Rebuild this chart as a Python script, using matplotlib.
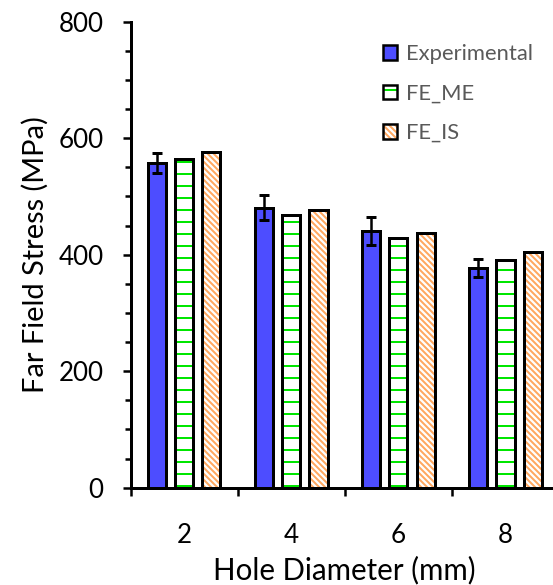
import matplotlib

matplotlib.use("Agg")
import matplotlib.pyplot as plt
import numpy as np
from matplotlib.patches import Patch
from matplotlib.ticker import MultipleLocator

# data
hole_diameters = ["2", "4", "6", "8"]
experimental = [557, 481, 440, 377]
experimental_err = [17, 21, 24, 15]
fe_me = [564, 469, 428, 391]
fe_is = [576, 477, 438, 404]

plt.rcParams["font.family"] = ["Lato", "DejaVu Sans"]
plt.rcParams["hatch.linewidth"] = 2.0

BLUE = "#4d4dff"
GREEN = "#00e600"
ORANGE = "#ffa860"

fig = plt.figure(figsize=(553 / 72, 585 / 72), dpi=72)
ax = fig.add_axes([130.5 / 553, 1 - 487.7 / 585, 428.5 / 553, 466 / 585])

x = np.arange(len(hole_diameters))
step = 0.255
width = 0.17


def hatched_bar(pos, values, hatch, colour):
    # hatch takes the edge colour, so draw the hatch first and the black outline on top
    ax.bar(pos, values, width, color="white", edgecolor=colour, linewidth=0, hatch=hatch, zorder=2)
    ax.bar(pos, values, width, fill=False, edgecolor="black", linewidth=3, zorder=2.1)


ax.bar(x - step, experimental, width, color=BLUE, edgecolor="black", linewidth=3, zorder=2)
hatched_bar(x, fe_me, "-", GREEN)
hatched_bar(x + step, fe_is, "\\\\\\\\", ORANGE)
ax.errorbar(x - step, experimental, yerr=experimental_err, fmt="none", ecolor="black",
            elinewidth=2.5, capsize=5, capthick=3, zorder=3)

ax.set_xlim(-0.5, len(hole_diameters) - 0.5)
ax.set_ylim(0, 800)
ax.yaxis.set_major_locator(MultipleLocator(200))
ax.yaxis.set_minor_locator(MultipleLocator(50))

# group boundaries carry the tick marks, labels sit at group centres
ax.set_xticks(np.arange(len(hole_diameters) + 1) - 0.5)
ax.set_xticklabels([])
ax.set_xticks(x, minor=True)
ax.set_xticklabels(hole_diameters, minor=True)
ax.tick_params(axis="x", which="major", direction="out", length=8, width=2.5)
ax.tick_params(axis="x", which="minor", length=0, pad=35, labelsize=26)
ax.tick_params(axis="y", which="major", direction="out", length=8, width=2.5, pad=19, labelsize=26)
ax.tick_params(axis="y", which="minor", direction="out", length=6, width=2.5)

for side in ("top", "right"):
    ax.spines[side].set_visible(False)
for side in ("left", "bottom"):
    ax.spines[side].set_linewidth(3)

ax.set_xlabel("Hole Diameter (mm)", fontsize=29.5)
ax.xaxis.set_label_coords(0.5, -0.146)
ax.set_ylabel("Far Field Stress (MPa)", fontsize=29, va="center")
ax.yaxis.set_label_coords(-0.223, 0.5)


def outline():
    return Patch(fill=False, edgecolor="black", linewidth=2.5)


handles = [
    Patch(facecolor=BLUE, edgecolor="black", linewidth=2.5),
    (Patch(facecolor="white", edgecolor=GREEN, linewidth=0, hatch="-"), outline()),
    (Patch(facecolor="white", edgecolor=ORANGE, linewidth=0, hatch="\\\\\\\\"), outline()),
]
leg = ax.legend(handles, ["Experimental", "FE_ME", "FE_IS"], loc="upper left",
                bbox_to_anchor=(383 / 553, 1 - 44 / 585), bbox_transform=fig.transFigure,
                frameon=False, fontsize=22, handlelength=0.65, handleheight=0.65,
                handletextpad=0.4, labelspacing=0.89, borderpad=0, borderaxespad=0)
for t in leg.get_texts():
    t.set_color("#595959")

fig.savefig("out.png", dpi=72)
